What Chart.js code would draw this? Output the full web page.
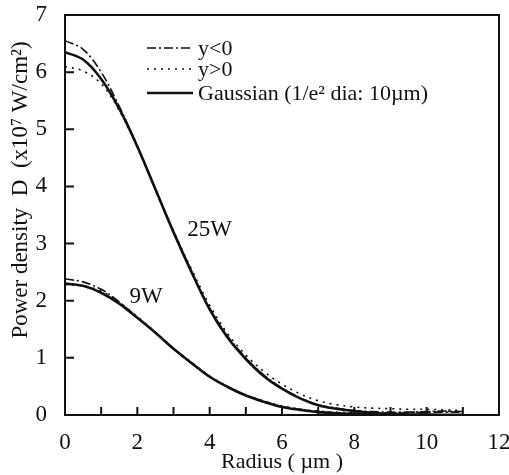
<!DOCTYPE html>
<html>
<head>
<meta charset="utf-8">
<script src="https://cdn.jsdelivr.net/npm/chart.js@4/dist/chart.umd.min.js"></script>
<style>
  html, body { margin: 0; padding: 0; background: #fff; }
  canvas { display: block; }
</style>
</head>
<body>
<canvas id="density" width="509" height="475"></canvas>
<script>
// radius (um), every 0.5 um
var radius = [0,0.5,1,1.5,2,2.5,3,3.5,4,4.5,5,5.5,6,6.5,7,7.5,8,8.5,9,9.5,10,10.5,11];

// 25W curves (x10^7 W/cm2)
var gauss25 = [6.35,6.22,5.88,5.36,4.7,3.95,3.2,2.5,1.85,1.35,0.98,0.68,0.46,0.29,0.17,0.11,0.07,0.04,0.02,0.01,0.01,0,0];
var yNeg25  = [6.55,6.4,6.0,5.4,4.7,3.95,3.2,2.5,1.87,1.38,1.0,0.7,0.47,0.3,0.18,0.12,0.08,0.06,0.05,0.05,0.06,0.07,0.06];
var yPos25  = [6.1,6.02,5.8,5.33,4.68,3.95,3.22,2.55,1.92,1.42,1.05,0.76,0.54,0.37,0.25,0.18,0.14,0.12,0.11,0.1,0.1,0.09,0.08];

// 9W curves
var gauss9 = [2.3,2.26,2.14,1.95,1.7,1.44,1.16,0.91,0.67,0.49,0.34,0.23,0.14,0.09,0.05,0.03,0.02,0.01,0.01,0,0,0,0];
var yNeg9  = [2.38,2.33,2.2,1.98,1.71,1.44,1.16,0.9,0.67,0.49,0.35,0.24,0.15,0.1,0.06,0.04,0.03,0.03,0.03,0.04,0.05,0.05,0.05];
var yPos9  = [2.28,2.26,2.17,1.97,1.72,1.45,1.17,0.92,0.68,0.5,0.35,0.24,0.16,0.1,0.07,0.05,0.04,0.04,0.04,0.05,0.05,0.06,0.06];

var xTicks = [0,1,2,3,4,5,6,7,8,9,10,11,12];
var yTicks = [0,1,2,3,4,5,6,7];

var serif = "'Liberation Serif', 'Times New Roman', serif";

function pts(vals) {
    var out = [];
    for (var i = 0; i < radius.length; i++) out.push({x: radius[i], y: vals[i]});
    return out;
}

var dashDot = [9,3,2,3];
var dotted = [2,5];

function line(label, vals, dash, width) {
    return {
        label: label,
        data: pts(vals),
        borderColor: '#111',
        borderWidth: width,
        borderDash: dash,
        pointRadius: 0,
        fill: false,
        tension: 0.35
    };
}

// frame, inward ticks, y title, legend and the 25W / 9W labels
var framePlugin = {
    id: 'frame',
    afterDraw: function (chart) {
        var ctx = chart.ctx;
        var a = chart.chartArea;
        var xs = chart.scales.x, ys = chart.scales.y;
        ctx.save();
        ctx.strokeStyle = '#111';
        ctx.lineWidth = 2;
        ctx.strokeRect(a.left, a.top, a.right - a.left, a.bottom - a.top);
        ctx.beginPath();
        xTicks.forEach(function (v) {
            var px = xs.getPixelForValue(v);
            ctx.moveTo(px, a.bottom);
            ctx.lineTo(px, a.bottom - 8);
        });
        yTicks.forEach(function (v) {
            var py = ys.getPixelForValue(v);
            ctx.moveTo(a.left, py);
            ctx.lineTo(a.left + 9, py);
        });
        ctx.stroke();

        ctx.fillStyle = '#111';

        // y axis title
        ctx.save();
        ctx.translate(21, 190);
        ctx.rotate(-Math.PI / 2);
        ctx.font = '23px ' + serif;
        ctx.textAlign = 'center';
        ctx.textBaseline = 'middle';
        ctx.fillText('Power density  D  (x10⁷ W/cm²)', 0, 0);
        ctx.restore();

        // legend
        var lx0 = 147, lx1 = 193, tx = 198;
        var rows = [
            {y: 48, dash: dashDot, w: 1.6, text: 'y<0'},
            {y: 69, dash: dotted, w: 1.6, text: 'y>0'},
            {y: 93, dash: [], w: 2.6, text: 'Gaussian (1/e² dia: 10µm)'}
        ];
        ctx.font = '22px ' + serif;
        ctx.textBaseline = 'middle';
        rows.forEach(function (r) {
            ctx.setLineDash(r.dash);
            ctx.lineWidth = r.w;
            ctx.beginPath();
            ctx.moveTo(lx0, r.y);
            ctx.lineTo(lx1, r.y);
            ctx.stroke();
            ctx.setLineDash([]);
            ctx.fillText(r.text, tx, r.y + 1);
        });

        // curve labels
        ctx.font = '23px ' + serif;
        ctx.textAlign = 'center';
        ctx.fillText('25W', xs.getPixelForValue(4.0), ys.getPixelForValue(3.24));
        ctx.fillText('9W', xs.getPixelForValue(2.24), ys.getPixelForValue(2.07));
        ctx.restore();
    }
};

var ctx = document.getElementById('density').getContext('2d');
new Chart(ctx, {
    type: 'line',
    data: {
        datasets: [
            line('y<0', yNeg25, dashDot, 1.6),
            line('y>0', yPos25, dotted, 1.6),
            line('Gaussian', gauss25, [], 2.6),
            line('y<0 9W', yNeg9, dashDot, 1.6),
            line('y>0 9W', yPos9, dotted, 1.6),
            line('Gaussian 9W', gauss9, [], 2.6)
        ]
    },
    options: {
        responsive: false,
        animation: false,
        layout: { padding: { top: 15, right: 10, left: 0, bottom: 0 } },
        plugins: {
            legend: { display: false },
            tooltip: { enabled: false }
        },
        scales: {
            x: {
                type: 'linear',
                min: 0,
                max: 12,
                grid: { display: false },
                border: { display: false },
                ticks: {
                    stepSize: 1,
                    autoSkip: false,
                    maxRotation: 0,
                    padding: 6,
                    color: '#111',
                    font: { family: serif, size: 23 },
                    callback: function (v) { return v % 2 === 0 ? v : ''; }
                },
                title: {
                    display: true,
                    text: 'Radius ( µm )',
                    color: '#111',
                    font: { family: serif, size: 22 },
                    padding: { top: 0, bottom: 0 }
                },
                afterFit: function (s) {
                    s.height = 60;
                    s.paddingLeft = 0;
                    s.paddingRight = 0;
                }
            },
            y: {
                min: 0,
                max: 7,
                grid: { display: false },
                border: { display: false },
                ticks: {
                    stepSize: 1,
                    padding: 10,
                    color: '#111',
                    font: { family: serif, size: 23 }
                },
                afterFit: function (s) {
                    s.width = 65;
                    s.paddingTop = 0;
                    s.paddingBottom = 0;
                }
            }
        }
    },
    plugins: [framePlugin]
});
</script>
</body>
</html>
